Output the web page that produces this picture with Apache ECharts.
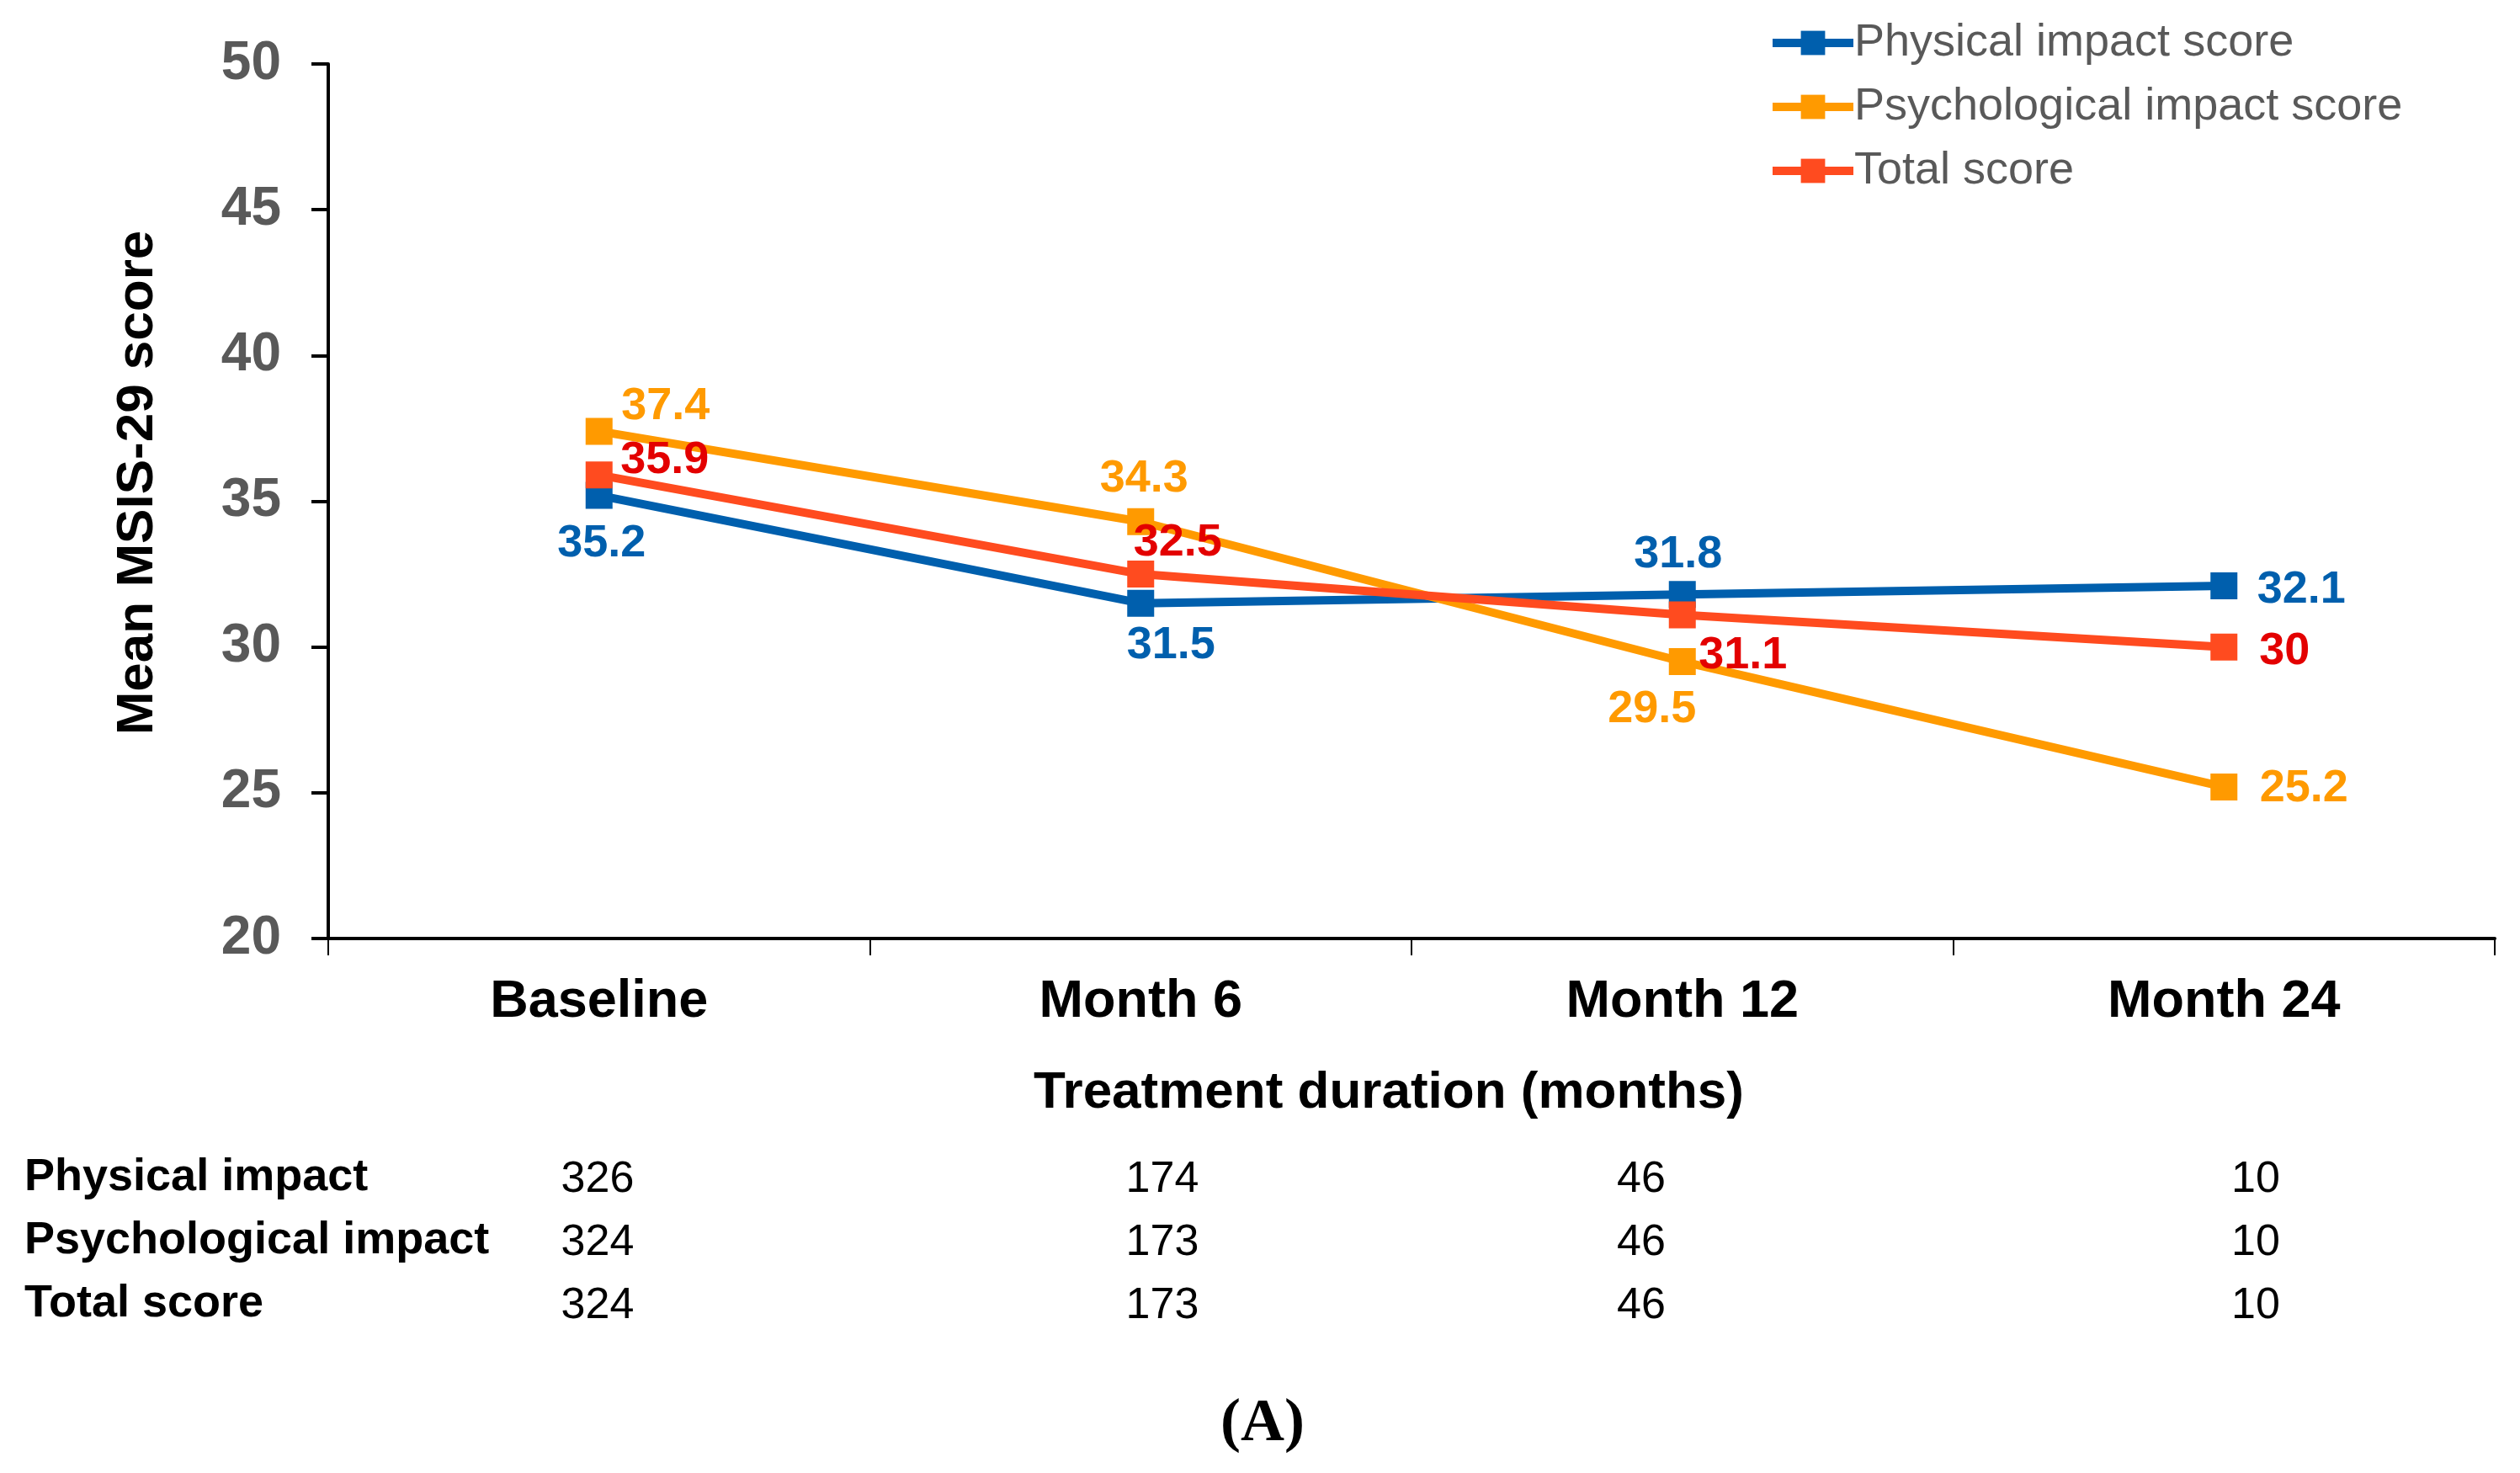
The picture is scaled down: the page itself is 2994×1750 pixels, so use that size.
<!DOCTYPE html>
<html>
<head>
<meta charset="utf-8">
<script src="https://cdn.jsdelivr.net/npm/echarts@6/dist/echarts.min.js"></script>
<style>
  html, body { margin: 0; padding: 0; background: #ffffff; }
  #chart { width: 2994px; height: 1750px; }
</style>
</head>
<body>
<div id="chart"></div>
<script>
// ---------- data ----------
var categories = ['Baseline', 'Month 6', 'Month 12', 'Month 24'];
var seriesNames = ['Physical impact score', 'Psychological impact score', 'Total score'];
var physicalScores = [35.2, 31.5, 31.8, 32.1];
var psychologicalScores = [37.4, 34.3, 29.5, 25.2];
var totalScores = [35.9, 32.5, 31.1, 30];
var yTicks = [20, 25, 30, 35, 40, 45, 50];
var tableRowLabels = ['Physical impact', 'Psychological impact', 'Total score'];
var nPhysical = [326, 174, 46, 10];
var nPsychological = [324, 173, 46, 10];
var nTotal = [324, 173, 46, 10];
var captionText = '(A)';

// ---------- styling (kept separate from data) ----------
var FONT = '"Liberation Sans", Arial, sans-serif';
var lineColors = ['#005FAD', '#FF9A00', '#FF4B1F'];
var labelColors = ['#005FAD', '#FF9A00', '#E30000'];
var labelOffsets = [
  [[3, 58], [36, 50], [-5, -47], [92, 5]],
  [[79, -29], [4, -51], [-36, 57], [95, 2]],
  [[78, -17], [44, -37], [72, 49], [72, 5]]
];
var tableColX = [710, 1381, 1950, 2680];
var tableRowY = [1402, 1477, 1552];

function buildData(values, sIdx) {
  return values.map(function (v, i) {
    return {
      value: v,
      label: { offset: labelOffsets[sIdx][i] }
    };
  });
}

var allValues = [physicalScores, psychologicalScores, totalScores];
var series = allValues.map(function (vals, s) {
  return {
    name: seriesNames[s],
    type: 'line',
    data: buildData(vals, s),
    symbol: 'rect',
    symbolSize: 32,
    lineStyle: { width: 10, color: lineColors[s] },
    itemStyle: { color: lineColors[s] },
    label: {
      show: true,
      position: 'inside',
      align: 'center',
      verticalAlign: 'middle',
      color: labelColors[s],
      fontFamily: FONT,
      fontWeight: 'bold',
      fontSize: 54
    },
    emphasis: { disabled: true },
    animation: false
  };
});

// table text via graphic
var graphics = [];
var tableCounts = [nPhysical, nPsychological, nTotal];
tableRowLabels.forEach(function (lab, r) {
  graphics.push({
    type: 'text', left: 29, top: tableRowY[r] - 30,
    style: { text: lab, font: 'bold 54px ' + FONT, fill: '#000000' }
  });
  tableCounts[r].forEach(function (n, c) {
    graphics.push({
      type: 'text', x: tableColX[c], y: tableRowY[r],
      style: { text: String(n), font: '52px ' + FONT, fill: '#000000', align: 'center', verticalAlign: 'middle' }
    });
  });
});
graphics.push({
  type: 'text', x: 1500, y: 1692,
  style: { text: captionText, font: 'bold 72px "Liberation Serif", "Times New Roman", serif', fill: '#000000', align: 'center', verticalAlign: 'middle' }
});

var chart = echarts.init(document.getElementById('chart'), null, { renderer: 'canvas' });
chart.setOption({
  backgroundColor: '#ffffff',
  animation: false,
  grid: { left: 390, right: 30, top: 76, bottom: 635, containLabel: false },
  legend: {
    data: seriesNames,
    orient: 'vertical',
    left: 2096,
    top: 19,
    itemWidth: 96,
    itemHeight: 36,
    itemGap: 22,
    lineStyle: { width: 10 },
    textStyle: { fontFamily: FONT, fontSize: 54, color: '#595959', lineHeight: 54, padding: [0, 0, 0, -4] }
  },
  xAxis: {
    type: 'category',
    data: categories,
    boundaryGap: true,
    name: 'Treatment duration (months)',
    nameLocation: 'middle',
    nameGap: 153,
    nameTextStyle: { fontFamily: FONT, fontSize: 62, fontWeight: 'bold', color: '#000000', padding: [0, 54, 0, 0] },
    axisLine: { lineStyle: { color: '#000000', width: 4 } },
    axisTick: { show: true, length: 20, lineStyle: { color: '#000000', width: 2 } },
    axisLabel: { margin: 44, fontFamily: FONT, fontSize: 63, fontWeight: 'bold', color: '#000000', interval: 0 },
    splitLine: { show: false }
  },
  yAxis: {
    type: 'value',
    min: yTicks[0],
    max: yTicks[yTicks.length - 1],
    interval: yTicks[1] - yTicks[0],
    name: 'Mean MSIS-29 score',
    nameLocation: 'middle',
    nameGap: 195,
    nameRotate: 90,
    nameTextStyle: { fontFamily: FONT, fontSize: 62, fontWeight: 'bold', color: '#000000', padding: [0, 0, 0, 44] },
    axisLine: { show: true, lineStyle: { color: '#000000', width: 4 } },
    axisTick: { show: true, length: 20, lineStyle: { color: '#000000', width: 4 } },
    axisLabel: { margin: 56, fontFamily: FONT, fontSize: 64, fontWeight: 'bold', color: '#595959' },
    splitLine: { show: false }
  },
  series: series,
  graphic: graphics
});
</script>
</body>
</html>
